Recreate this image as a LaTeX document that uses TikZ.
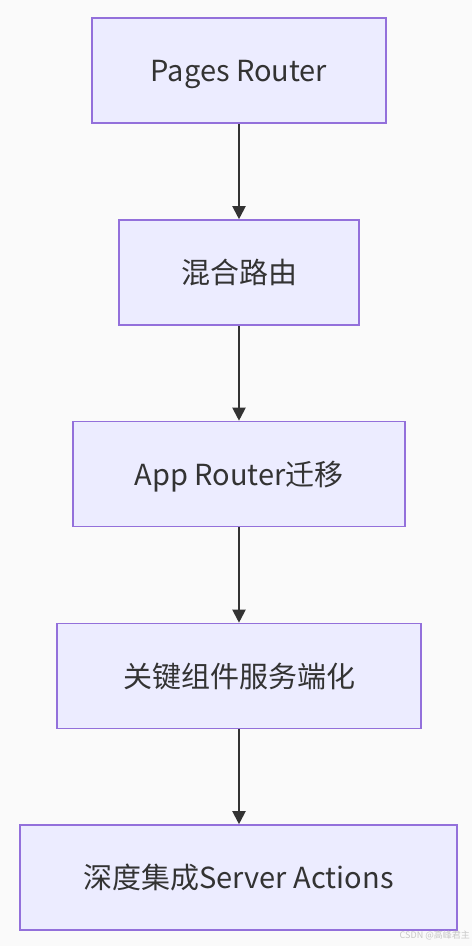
\documentclass[tikz,border=0pt]{standalone}
\usepackage{fontspec}
\setmainfont{Noto Sans CJK SC}
\usetikzlibrary{arrows.meta}
\definecolor{nodefill}{HTML}{ECECFF}
\definecolor{nodeline}{HTML}{9370DB}
\definecolor{edgecol}{HTML}{333333}
\definecolor{bgcol}{HTML}{FAFAFA}
\definecolor{wmcol}{HTML}{C8C8C8}
\tikzset{
  stepbox/.style={draw=nodeline, fill=nodefill, line width=1.6pt, minimum height=105pt,
    inner sep=0pt, text=edgecol, text height=22pt, text depth=0pt, font=\fontsize{29}{33}\selectfont},
  flow/.style={draw=edgecol, line width=2pt, -{Triangle[length=13pt,width=13pt]}},
}
\begin{document}
\begin{tikzpicture}[x=1pt,y=-1pt]
\fill[bgcol] (0,0) rectangle (472,946);
\useasboundingbox (0,0) rectangle (472,946);
\node[stepbox, minimum width=294pt] (a) at (239,70.5) {Pages Router};
\node[stepbox, minimum width=240pt] (b) at (239,272.5) {混合路由};
\node[stepbox, minimum width=332pt] (c) at (239,474) {App Router迁移};
\node[stepbox, minimum width=364pt] (d) at (239,676) {关键组件服务端化};
\node[stepbox, minimum width=437pt] (e) at (238.5,877.5) {深度集成Server Actions};
\draw[flow] (a) -- (b);
\draw[flow] (b) -- (c);
\draw[flow] (c) -- (d);
\draw[flow] (d.south) -- (d.south |- e.north);
\node[anchor=east, text=wmcol, font=\fontsize{9}{10}\selectfont, inner sep=0pt] (wm) at (470,935) {CSDN @高峰君主};
\end{tikzpicture}
\end{document}
